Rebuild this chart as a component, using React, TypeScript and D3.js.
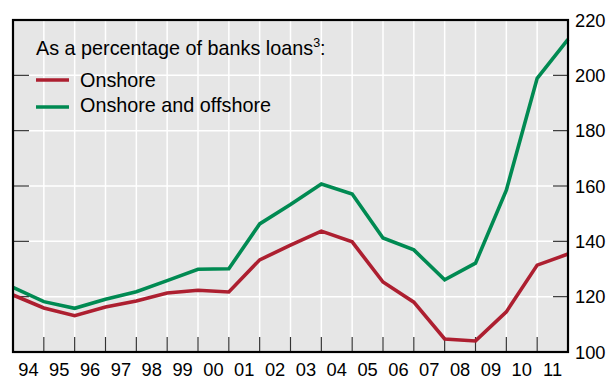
import React from "react";
import * as d3 from "d3";

const years = ["94","95","96","97","98","99","00","01","02","03","04","05","06","07","08","09","10","11"];
const onshore = [120.6,115.9,113.1,116.3,118.4,121.3,122.3,121.7,133.3,138.6,143.7,139.8,125.3,118.0,104.7,104.0,114.5,131.4,135.4];
const onshoreOffshore = [123.4,118.2,115.8,119.1,121.8,125.8,129.9,130.1,146.3,153.3,160.7,157.1,141.2,136.9,126.1,132.1,158.5,198.9,213.0];
const yTicks = [100,120,140,160,180,200,220];
const legendTitle = "As a percentage of banks loans";
const seriesNames = ["Onshore","Onshore and offshore"];

const W = 610, H = 377;
const L = 13, R = 568, T = 20, B = 352;
const RED = "#ad1f30";
const GREEN = "#008a52";
const FONT = "'Liberation Sans', Arial, Helvetica, sans-serif";

export default function App() {
  const x = d3.scaleLinear().domain([0, years.length]).range([L, R]);
  const y = d3.scaleLinear().domain([100, 220]).range([B, T]);
  const line = d3.line<number>().x((_, i) => x(i)).y(d => y(d));
  const bounds = d3.range(1, years.length);
  return (
    <svg width={W} height={H} style={{ position: "absolute", left: 0, top: 0, background: "#fff" }}>
      <rect x={L} y={T} width={R - L} height={B - T} fill="#e6e6e6" />
      {bounds.map(i => (
        <line key={"vg" + i} x1={x(i)} x2={x(i)} y1={T} y2={B} stroke="#fff" strokeWidth={1.5} />
      ))}
      {yTicks.slice(1, -1).map(v => (
        <line key={"hg" + v} x1={L} x2={R} y1={y(v)} y2={y(v)} stroke="#fff" strokeWidth={1.5} />
      ))}
      {bounds.map(i => (
        <line key={"xt" + i} x1={x(i)} x2={x(i)} y1={B - 15} y2={B} stroke="#333" strokeWidth={1.2} />
      ))}
      {yTicks.slice(1, -1).map(v => (
        <g key={"yt" + v}>
          <line x1={L} x2={L + 16} y1={y(v)} y2={y(v)} stroke="#333" strokeWidth={1.2} />
          <line x1={R - 15} x2={R} y1={y(v)} y2={y(v)} stroke="#333" strokeWidth={1.2} />
        </g>
      ))}
      <path d={line(onshore) || ""} fill="none" stroke={RED} strokeWidth={3.6} strokeLinejoin="miter" />
      <path d={line(onshoreOffshore) || ""} fill="none" stroke={GREEN} strokeWidth={3.6} strokeLinejoin="miter" />
      <rect x={L} y={T} width={R - L} height={B - T} fill="none" stroke="#000" strokeWidth={2.2} />
      {yTicks.map(v => (
        <text key={"yl" + v} x={575} y={y(v) + 6.5} fontFamily={FONT} fontSize={18.3} fill="#000">{v}</text>
      ))}
      {years.map((yr, i) => (
        <text key={"xl" + yr} x={x(i + 0.5)} y={376} textAnchor="middle" fontFamily={FONT} fontSize={18.3} fill="#000">{yr}</text>
      ))}
      <text x={36} y={55} fontFamily={FONT} fontSize={19.8} fill="#000">
        {legendTitle}
        <tspan fontSize={12.5} dy={-8}>3</tspan>
        <tspan dy={8}>:</tspan>
      </text>
      {seriesNames.map((n, i) => (
        <g key={n}>
          <line x1={36} x2={69} y1={80 + i * 27} y2={80 + i * 27} stroke={i === 0 ? RED : GREEN} strokeWidth={3.6} />
          <text x={80} y={86.7 + i * 25.5} fontFamily={FONT} fontSize={19.8} fill="#000">{n}</text>
        </g>
      ))}
    </svg>
  );
}
